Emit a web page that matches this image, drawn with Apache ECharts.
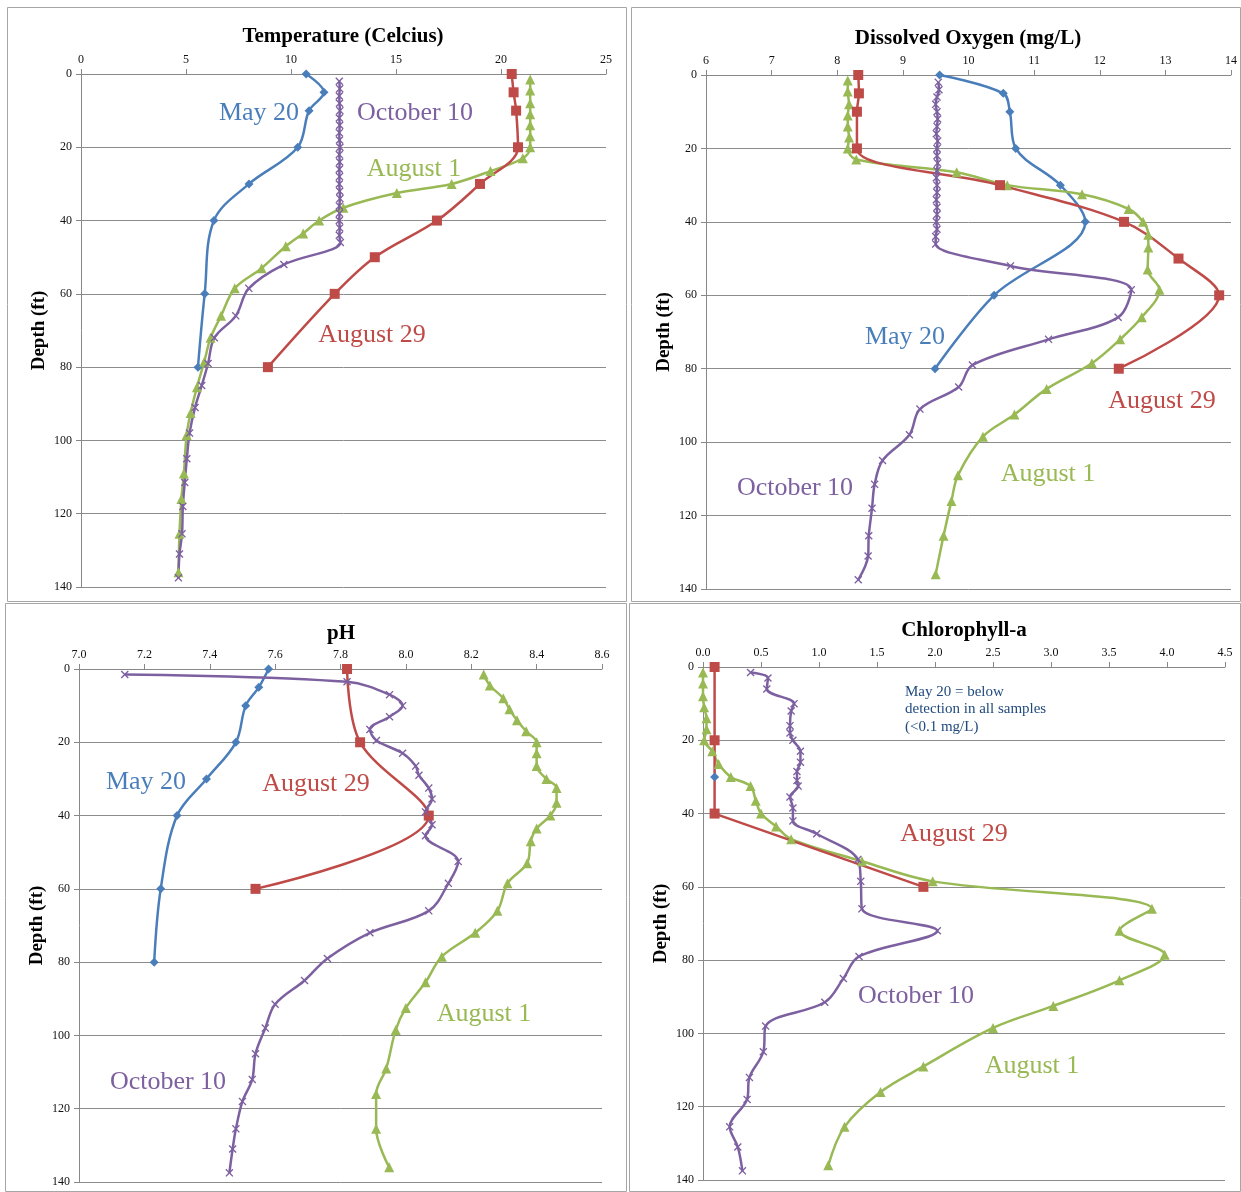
<!DOCTYPE html>
<html>
<head>
<meta charset="utf-8">
<script src="https://cdn.jsdelivr.net/npm/echarts@6/dist/echarts.min.js"></script>
<style>
html,body{margin:0;padding:0;background:#fff;}
#c{width:1241px;height:1192px;}
</style>
</head>
<body>
<div id="c"></div>
<script>
// ---------- DATA ----------
const depthTicks = [0, 20, 40, 60, 80, 100, 120, 140];

// common sampling depths (ft)
const depthMay20 = [0, 5, 10, 20, 30, 40, 60, 80];
const depthAug29 = [0, 5, 10, 20, 30, 40, 50, 60, 80];
const depthAug1 = [1.5, 4.5, 8, 11, 14, 17, 20, 23, 26.5, 30, 32.5, 36.5, 40, 43.5, 47, 53, 58.5, 66, 72, 78.5, 85.5, 92.5, 98.5, 109, 116, 125.5, 136];
const depthOct10 = [2, 4, 6, 8, 10, 12, 14, 16, 18, 20, 22, 24, 26, 28, 30, 32, 34, 36, 38, 40, 42, 44, 46, 52, 58.5, 66, 72, 79, 85, 91, 98, 105, 111.5, 118, 125.5, 131, 137.5];

// Temperature (Celcius)
const tempMay20 = [10.72, 11.57, 10.86, 10.32, 8.0, 6.33, 5.89, 5.57];
const tempAug29 = [20.51, 20.6, 20.72, 20.81, 19.0, 16.95, 13.99, 12.08, 8.9];
const tempAug1 = [21.39, 21.39, 21.39, 21.39, 21.39, 21.39, 21.39, 21.04, 19.5, 17.65, 15.04, 12.49, 11.34, 10.58, 9.75, 8.6, 7.32, 6.67, 6.17, 5.87, 5.52, 5.22, 5.03, 4.9, 4.78, 4.69, 4.64];
const tempOct10 = [12.3, 12.32, 12.3, 12.31, 12.33, 12.3, 12.32, 12.3, 12.31, 12.33, 12.3, 12.32, 12.3, 12.31, 12.3, 12.32, 12.33, 12.3, 12.31, 12.3, 12.32, 12.3, 12.35, 9.66, 7.99, 7.37, 6.35, 6.05, 5.75, 5.43, 5.17, 5.04, 4.94, 4.85, 4.81, 4.69, 4.64];

// Dissolved Oxygen (mg/L)
const doMay20 = [9.56, 10.53, 10.63, 10.72, 11.40, 11.78, 10.39, 9.49];
const doAug29 = [8.32, 8.33, 8.30, 8.30, 10.48, 12.37, 13.2, 13.82, 12.29];
const doAug1 = [8.16, 8.16, 8.18, 8.16, 8.16, 8.18, 8.16, 8.29, 9.82, 10.59, 11.73, 12.44, 12.66, 12.74, 12.74, 12.73, 12.91, 12.64, 12.31, 11.88, 11.19, 10.70, 10.22, 9.84, 9.74, 9.62, 9.50];
const doOct10 = [9.54, 9.55, 9.52, 9.50, 9.52, 9.53, 9.52, 9.51, 9.53, 9.52, 9.52, 9.53, 9.52, 9.51, 9.52, 9.52, 9.51, 9.52, 9.52, 9.51, 9.52, 9.50, 9.50, 10.64, 12.48, 12.28, 11.22, 10.06, 9.85, 9.26, 9.10, 8.69, 8.57, 8.53, 8.48, 8.47, 8.32];

// pH
const phDepthAug29 = [0, 20, 40, 60];
const phDepthOct10 = [1.5, 3.5, 7, 10, 13, 16.5, 19.5, 23, 26.5, 29, 32.5, 35.5, 39, 42.5, 45.5, 52.5, 58.5, 66, 72, 79, 85, 91.5, 98, 105, 112, 118, 125.5, 131, 137.5];
const phMay20 = [7.58, 7.55, 7.51, 7.48, 7.39, 7.30, 7.25, 7.23];
const phAug29 = [7.82, 7.86, 8.07, 7.54];
const phAug1 = [8.238, 8.257, 8.298, 8.317, 8.34, 8.368, 8.4, 8.4, 8.4, 8.43, 8.461, 8.461, 8.442, 8.4, 8.382, 8.371, 8.311, 8.28, 8.212, 8.11, 8.06, 8.0, 7.969, 7.94, 7.909, 7.909, 7.949];
const phOct10 = [7.14, 7.82, 7.95, 7.99, 7.95, 7.89, 7.91, 7.99, 8.03, 8.04, 8.07, 8.08, 8.06, 8.08, 8.06, 8.16, 8.13, 8.07, 7.89, 7.76, 7.69, 7.60, 7.57, 7.54, 7.53, 7.50, 7.48, 7.47, 7.46];

// Chlorophyll-a
const chlDepthMay20 = [30];
const chlDepthAug29 = [0, 20, 40, 60];
const chlDepthOct10 = [1.5, 3, 6, 10, 12, 16, 18, 20, 23, 26, 28.5, 31, 32.5, 35.5, 38.5, 42, 45.5, 52.5, 58.5, 66, 72, 79, 85, 91.5, 98, 105, 112, 118, 125.5, 131, 137.5];
const chlMay20 = [0.10];
const chlAug29 = [0.10, 0.10, 0.10, 1.90];
const chlAug1 = [0.0, 0.0, 0.0, 0.01, 0.03, 0.03, 0.01, 0.08, 0.135, 0.24, 0.41, 0.455, 0.5, 0.63, 0.76, 1.37, 1.98, 3.87, 3.59, 3.98, 3.59, 3.02, 2.50, 1.90, 1.53, 1.22, 1.08];
const chlOct10 = [0.41, 0.56, 0.55, 0.785, 0.76, 0.75, 0.75, 0.775, 0.84, 0.84, 0.81, 0.81, 0.82, 0.75, 0.775, 0.775, 0.98, 1.335, 1.36, 1.37, 2.02, 1.345, 1.21, 1.05, 0.54, 0.52, 0.40, 0.38, 0.23, 0.30, 0.34];

// ---------- STYLE ----------
const C = { may: '#4A7EBB', aug1: '#98B954', aug29: '#BE4B48', oct: '#7D60A0' };
const SERIF = '"Liberation Serif", "Times New Roman", serif';
const xSymbol = 'path://M0,1.2 L1.2,0 L5,3.8 L8.8,0 L10,1.2 L6.2,5 L10,8.8 L8.8,10 L5,6.2 L1.2,10 L0,8.8 L3.8,5 Z';

function pairs(xs, ys) { return xs.map((v, i) => [v, ys[i]]); }

const grids = [
  { left: 81, top: 74, width: 525, height: 513 },
  { left: 706, top: 75, width: 525, height: 514 },
  { left: 79, top: 669, width: 523, height: 513 },
  { left: 703, top: 667, width: 522, height: 513 }
];
const xRanges = [
  { min: 0, max: 25, interval: 5, dec: 0 },
  { min: 6, max: 14, interval: 1, dec: 0 },
  { min: 7.0, max: 8.6, interval: 0.2, dec: 1 },
  { min: 0, max: 4.5, interval: 0.5, dec: 1 }
];

const xAxes = xRanges.map((r, i) => ({
  type: 'value', gridIndex: i, position: 'top', min: r.min, max: r.max, interval: r.interval,
  axisLine: { show: true, lineStyle: { color: '#888', width: 1 } },
  axisTick: { show: true, inside: false, length: 5, lineStyle: { color: '#888' } },
  axisLabel: { fontFamily: SERIF, fontSize: 12, color: '#111', margin: 8,
    formatter: v => Number(v).toFixed(r.dec) },
  splitLine: { show: false }
}));
const yAxes = grids.map((g, i) => ({
  type: 'value', gridIndex: i, inverse: true, min: 0, max: 140, interval: 20,
  name: 'Depth (ft)', nameLocation: 'middle', nameRotate: 90, nameGap: 32,
  nameTextStyle: { fontFamily: SERIF, fontSize: 19, fontWeight: 'bold', color: '#000' },
  axisLine: { show: true, lineStyle: { color: '#888', width: 1 } },
  axisTick: { show: true, inside: false, length: 5, lineStyle: { color: '#888' } },
  axisLabel: { fontFamily: SERIF, fontSize: 12, color: '#111', margin: 9 },
  splitLine: { show: true, lineStyle: { color: '#8c8c8c', width: 1 } }
}));

function line(idx, color, symbol, size, xs, depths, smooth) {
  return {
    type: 'line', xAxisIndex: idx, yAxisIndex: idx,
    data: pairs(xs, depths),
    smooth: smooth === undefined ? 0.35 : smooth,
    symbol: symbol, symbolSize: size, showSymbol: true,
    lineStyle: { color: color, width: 2.5 },
    itemStyle: { color: color },
    animation: false
  };
}

const series = [
  // Temperature
  line(0, C.may, 'diamond', 9, tempMay20, depthMay20),
  line(0, C.aug1, 'triangle', 10, tempAug1, depthAug1),
  line(0, C.aug29, 'rect', 10, tempAug29, depthAug29),
  line(0, C.oct, xSymbol, 8, tempOct10, depthOct10),
  // DO
  line(1, C.may, 'diamond', 9, doMay20, depthMay20),
  line(1, C.aug1, 'triangle', 10, doAug1, depthAug1),
  line(1, C.aug29, 'rect', 10, doAug29, depthAug29),
  line(1, C.oct, xSymbol, 8, doOct10, depthOct10),
  // pH
  line(2, C.may, 'diamond', 9, phMay20, depthMay20),
  line(2, C.aug1, 'triangle', 10, phAug1, depthAug1),
  line(2, C.aug29, 'rect', 10, phAug29, phDepthAug29),
  line(2, C.oct, xSymbol, 8, phOct10, phDepthOct10),
  // Chlorophyll-a
  line(3, C.may, 'diamond', 9, chlMay20, chlDepthMay20),
  line(3, C.aug1, 'triangle', 10, chlAug1, depthAug1),
  line(3, C.aug29, 'rect', 10, chlAug29, chlDepthAug29, 0),
  line(3, C.oct, xSymbol, 8, chlOct10, chlDepthOct10)
];

const titleStyle = { fontFamily: SERIF, fontSize: 21, fontWeight: 'bold', color: '#000' };
const titles = [
  { text: 'Temperature (Celcius)', left: 343, top: 26 },
  { text: 'Dissolved Oxygen (mg/L)', left: 968, top: 28 },
  { text: 'pH', left: 341, top: 623 },
  { text: 'Chlorophyll-a', left: 964, top: 620 }
].map(t => ({ text: t.text, left: t.left, top: t.top, textAlign: 'center', padding: 0, textStyle: titleStyle }));

function note(text, x, y, color) {
  return { type: 'text', x: x, y: y, silent: true, z: 50,
    style: { text: text, fill: color, font: '26px ' + SERIF, textAlign: 'center', textVerticalAlign: 'middle' } };
}
function border(x, y, w, h) {
  return { type: 'rect', shape: { x: x + 0.5, y: y + 0.5, width: w, height: h }, silent: true, z: 0,
    style: { fill: 'none', stroke: '#a6a6a6', lineWidth: 1 } };
}
const graphics = [
  border(7, 7, 619, 594), border(631, 7, 609, 594), border(5, 603, 621, 588), border(629, 603, 611, 588),
  note('May 20', 259, 113, C.may), note('October 10', 415, 113, C.oct),
  note('August 1', 414, 169, C.aug1), note('August 29', 372, 335, C.aug29),
  note('May 20', 905, 337, C.may), note('August 29', 1162, 401, C.aug29),
  note('August 1', 1048, 474, C.aug1), note('October 10', 795, 488, C.oct),
  note('May 20', 146, 782, C.may), note('August 29', 316, 784, C.aug29),
  note('August 1', 484, 1014, C.aug1), note('October 10', 168, 1082, C.oct),
  note('August 29', 954, 834, C.aug29), note('October 10', 916, 996, C.oct),
  note('August 1', 1032, 1066, C.aug1),
  { type: 'text', x: 905, y: 683, silent: true, z: 50,
    style: { text: 'May 20 = below\ndetection in all samples\n(<0.1 mg/L)', fill: '#1F497D',
      font: '15px ' + SERIF, lineHeight: 17.5, textAlign: 'left', textVerticalAlign: 'top' } }
];

const chart = echarts.init(document.getElementById('c'), null, { renderer: 'canvas' });
chart.setOption({
  backgroundColor: '#ffffff',
  animation: false,
  title: titles,
  grid: grids,
  xAxis: xAxes,
  yAxis: yAxes,
  series: series,
  graphic: graphics
});
</script>
</body>
</html>
